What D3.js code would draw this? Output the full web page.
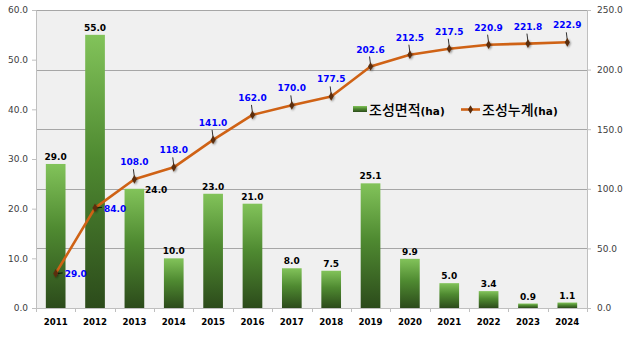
<!DOCTYPE html>
<html><head><meta charset="utf-8">
<script src="https://cdn.jsdelivr.net/npm/d3@7/dist/d3.min.js"></script>
<style>html,body{margin:0;padding:0;background:#fff;}svg{display:block;}</style>
</head><body>
<svg id="c" width="634" height="340"></svg>
<script>
const years = ["2011","2012","2013","2014","2015","2016","2017","2018","2019","2020","2021","2022","2023","2024"];
const areaValues = [29.0,55.0,24.0,10.0,23.0,21.0,8.0,7.5,25.1,9.9,5.0,3.4,0.9,1.1];
const cumulativeValues = [29.0,84.0,108.0,118.0,141.0,162.0,170.0,177.5,202.6,212.5,217.5,220.9,221.8,222.9];
const leftTicks = [0,10,20,30,40,50,60];
const rightTicks = [0,50,100,150,200,250];
const seriesNames = ["조성면적", "조성누계"];
const unitLabel = "(ha)";

const svg = d3.select("#c");
const L = 36, R = 587, T = 10, B = 308;
const x = d3.scaleBand().domain(years).range([L, R]).paddingInner(0.5).paddingOuter(0.25);
const yL = d3.scaleLinear().domain([0, 60]).range([B, T]);
const yR = d3.scaleLinear().domain([0, 250]).range([B, T]);

const defs = svg.append("defs");
const g = defs.append("linearGradient").attr("id","barGrad").attr("x1",0).attr("y1",0).attr("x2",0).attr("y2",1);
g.append("stop").attr("offset","0%").attr("stop-color","#82c35a");
g.append("stop").attr("offset","45%").attr("stop-color","#4f8a31");
g.append("stop").attr("offset","100%").attr("stop-color","#2c4b1b");
const f = defs.append("filter").attr("id","sh").attr("x","-100%").attr("y","-100%").attr("width","300%").attr("height","300%");
f.append("feGaussianBlur").attr("in","SourceAlpha").attr("stdDeviation",1.3).attr("result","b");
f.append("feOffset").attr("in","b").attr("dx",1).attr("dy",1).attr("result","o");
f.append("feComponentTransfer").attr("in","o").attr("result","o2").append("feFuncA").attr("type","linear").attr("slope",0.45);
const m = f.append("feMerge"); m.append("feMergeNode").attr("in","o2"); m.append("feMergeNode").attr("in","SourceGraphic");

// plot background
svg.append("rect").attr("x",L).attr("y",T).attr("width",R-L).attr("height",B-T).attr("fill","#f0f0f0");

// gridlines (right axis)
svg.append("g").selectAll("line").data(rightTicks.filter(d=>d>0)).join("line")
  .attr("x1",L).attr("x2",R).attr("y1",d=>Math.round(yR(d))+0.5).attr("y2",d=>Math.round(yR(d))+0.5)
  .attr("stroke","#a6a6a6").attr("stroke-width",1);

// axes
const fmt = d3.format(".1f");
const axL = svg.append("g").attr("transform",`translate(${L},0)`)
  .call(d3.axisLeft(yL).tickValues(leftTicks).tickFormat(fmt).tickSize(4).tickPadding(4));
const axR = svg.append("g").attr("transform",`translate(${R},0)`)
  .call(d3.axisRight(yR).tickValues(rightTicks).tickFormat(fmt).tickSize(4).tickPadding(6));
[axL, axR].forEach(a=>{
  a.select(".domain").attr("stroke","#bfbfbf");
  a.selectAll(".tick line").attr("stroke","#bfbfbf");
  a.selectAll("text").attr("font-family","DejaVu Sans, Verdana, sans-serif").attr("font-size",9).attr("fill","#404040");
});
const step = x.step();
const axB = svg.append("g").attr("transform",`translate(0,${B})`)
  .call(d3.axisBottom(x).tickSize(0).tickPadding(11));
axB.select(".domain").attr("stroke","#bfbfbf");
axB.selectAll("text").attr("font-family","DejaVu Sans, Verdana, sans-serif").attr("font-size",8.6).attr("font-weight","bold").attr("fill","#000");
axB.selectAll(".sep").data(d3.range(years.length+1)).join("line").attr("class","sep")
  .attr("x1",i=>Math.round(L+i*(R-L)/years.length)+0.5).attr("x2",i=>Math.round(L+i*(R-L)/years.length)+0.5).attr("y1",0).attr("y2",4)
  .attr("stroke","#bfbfbf");

// bars
svg.append("g").selectAll("rect").data(areaValues).join("rect")
  .attr("x",(d,i)=>x(years[i])).attr("width",x.bandwidth())
  .attr("y",d=>yL(d)).attr("height",d=>B-yL(d))
  .attr("fill","url(#barGrad)");

// bar labels
svg.append("g").selectAll("text").data(areaValues).join("text")
  .attr("x",(d,i)=> i===2 ? x(years[i])+x.bandwidth()+12 : x(years[i])+x.bandwidth()/2)
  .attr("y",(d,i)=> i===2 ? yL(d)+4 : yL(d)-4)
  .attr("text-anchor","middle")
  .attr("font-family","DejaVu Sans, Verdana, sans-serif").attr("font-size",9).attr("font-weight","bold").attr("fill","#000")
  .text(d=>fmt(d));

// line
const cx = i => x(years[i]) + x.bandwidth()/2;
const line = d3.line().x((d,i)=>cx(i)).y(d=>yR(d));
svg.append("path").datum(cumulativeValues).attr("d",line)
  .attr("fill","none").attr("stroke","#cf6215").attr("stroke-width",2.6).attr("stroke-linejoin","round");

// leader lines
svg.append("g").selectAll("line").data(cumulativeValues).join("line")
  .attr("x1",(d,i)=> i<2 ? cx(i)+2 : cx(i))
  .attr("y1",(d,i)=> i<2 ? yR(d) : yR(d)-2)
  .attr("x2",(d,i)=> i<2 ? cx(i)+7 : cx(i)-1)
  .attr("y2",(d,i)=> i<2 ? yR(d)-0.5 : yR(d)-10)
  .attr("stroke","#000").attr("stroke-width",0.8);

// markers
const sym = d3.symbol().type(d3.symbolDiamond).size(22);
svg.append("g").selectAll("path").data(cumulativeValues).join("path")
  .attr("transform",(d,i)=>`translate(${cx(i)},${yR(d)})`)
  .attr("d",sym).attr("fill","#5b2d0c").attr("filter","url(#sh)");

// line labels
svg.append("g").selectAll("text").data(cumulativeValues).join("text")
  .attr("x",(d,i)=> i<2 ? cx(i)+9 : cx(i))
  .attr("y",(d,i)=> i<2 ? yR(d)+4 : yR(d)-14)
  .attr("text-anchor",(d,i)=> i<2 ? "start" : "middle")
  .attr("font-family","DejaVu Sans, Verdana, sans-serif").attr("font-size",9).attr("font-weight","bold").attr("fill","#0000ff")
  .text(d=>fmt(d));

// legend
const lg = svg.append("g");
lg.append("rect").attr("x",353).attr("y",106).attr("width",14).attr("height",6).attr("fill","url(#barGrad)");
const t1 = lg.append("text").attr("x",369).attr("y",115).attr("fill","#000");
t1.append("tspan").attr("font-family","Noto Sans CJK KR, sans-serif").attr("font-size",14).attr("font-weight","500").text(seriesNames[0]);
t1.append("tspan").attr("font-family","DejaVu Sans, sans-serif").attr("font-size",10.5).attr("font-weight","bold").text(unitLabel);
lg.append("line").attr("x1",461).attr("x2",480).attr("y1",109.5).attr("y2",109.5).attr("stroke","#cf6215").attr("stroke-width",2.6);
lg.append("path").attr("transform","translate(470.5,109.5)").attr("d",sym).attr("fill","#5b2d0c");
const t2 = lg.append("text").attr("x",482).attr("y",115).attr("fill","#000");
t2.append("tspan").attr("font-family","Noto Sans CJK KR, sans-serif").attr("font-size",14).attr("font-weight","500").text(seriesNames[1]);
t2.append("tspan").attr("font-family","DejaVu Sans, sans-serif").attr("font-size",10.5).attr("font-weight","bold").text(unitLabel);
</script>
</body></html>
